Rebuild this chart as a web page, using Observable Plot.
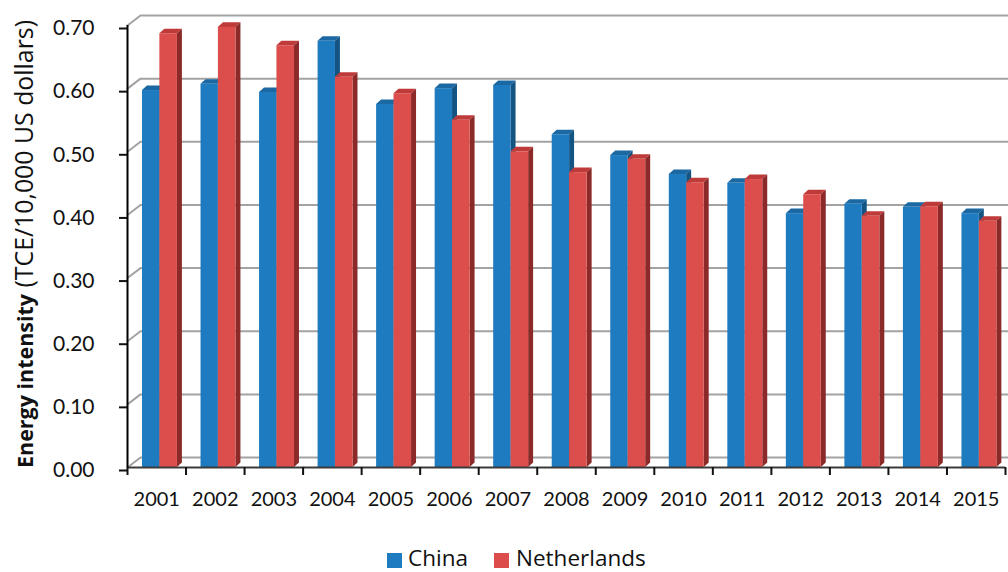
<!DOCTYPE html>
<html>
<head>
<meta charset="utf-8">
<script src="https://cdn.jsdelivr.net/npm/d3@7"></script>
<script src="https://cdn.jsdelivr.net/npm/@observablehq/plot@0.6"></script>
<style>
  html, body { margin: 0; padding: 0; background: #fff; }
  #wrap { width: 1008px; height: 572px; position: relative; overflow: hidden; font-family: Lato, "Open Sans", sans-serif; }
  #legend { position: relative; width: 1008px; height: 42px; }
  .sw { position: absolute; width: 15px; height: 15px; top: 23px; }
  .lt { position: absolute; top: 14px; font-family: "Open Sans", sans-serif; font-size: 22.5px; line-height: 28px; color: #111; }
</style>
</head>
<body>
<div id="wrap"></div>
<script>
// ---- data ----
const years = ["2001","2002","2003","2004","2005","2006","2007","2008","2009","2010","2011","2012","2013","2014","2015"];
const series = ["China", "Netherlands"];
const china = [0.597, 0.607, 0.594, 0.675, 0.575, 0.600, 0.605, 0.527, 0.494, 0.464, 0.450, 0.402, 0.417, 0.412, 0.402];
const netherlands = [0.687, 0.697, 0.668, 0.618, 0.592, 0.550, 0.500, 0.467, 0.488, 0.451, 0.456, 0.432, 0.398, 0.413, 0.390];
const yTicks = [0, 0.1, 0.2, 0.3, 0.4, 0.5, 0.6, 0.7];
const yTitleBold = "Energy intensity";
const yTitleRest = " (TCE/10,000 US dollars)";

// ---- styling / layout ----
const colors = {
  China: {front: "#1f7bc0", top: "#1b68a3", side: "#145483", swatch: "#1f7bc0"},
  Netherlands: {front: "#dc4e4c", top: "#bf3b3a", side: "#8c2a2a", swatch: "#dc4c4b"}
};
const slot = {China: [0.256, 0.553], Netherlands: [0.553, 0.853]};
const depthX = 0.085, depthY = 0.0072;   // bar depth (data units)
const wallX = 0.222, wallY = 0.0158;     // back wall offset (data units)

const values = {China: china, Netherlands: netherlands};
const marks = [];

// back-wall gridlines with diagonal to front axis
const gridPts = [];
yTicks.forEach(t => {
  gridPts.push({t, x: 0, y: t});
  gridPts.push({t, x: wallX, y: t + wallY});
  gridPts.push({t, x: years.length + 0.06, y: t + wallY});
});
marks.push(Plot.line(gridPts, {x: "x", y: "y", z: "t", stroke: "#a3a3a3", strokeWidth: 2}));

series.forEach(s => {
  const rows = years.map((yr, i) => ({i, v: values[s][i], x1: i + slot[s][0], x2: i + slot[s][1]}));
  const tops = [], sides = [];
  rows.forEach(r => {
    tops.push({k: r.i, x: r.x1, y1: r.v, y2: r.v});
    tops.push({k: r.i, x: r.x1 + depthX, y1: r.v, y2: r.v + depthY});
    tops.push({k: r.i, x: r.x2, y1: r.v, y2: r.v + depthY});
    tops.push({k: r.i, x: r.x2 + depthX, y1: r.v + depthY, y2: r.v + depthY});
    sides.push({k: r.i, x: r.x2, y1: 0, y2: r.v});
    sides.push({k: r.i, x: r.x2 + depthX, y1: depthY, y2: r.v + depthY});
  });
  marks.push(Plot.areaY(tops, {x: "x", y1: "y1", y2: "y2", z: "k", fill: colors[s].top}));
  marks.push(Plot.areaY(sides, {x: "x", y1: "y1", y2: "y2", z: "k", fill: colors[s].side}));
  marks.push(Plot.rect(rows, {x1: "x1", x2: "x2", y1: 0, y2: "v", fill: colors[s].front}));
});

// axes
marks.push(Plot.ruleY([0], {x1: 0, x2: years.length, stroke: "#3a3a3a", strokeWidth: 2}));
marks.push(Plot.ruleX([0], {y1: 0, y2: 0.7, stroke: "#000", strokeWidth: 2}));
marks.push(Plot.axisY({ticks: yTicks, tickFormat: d => d.toFixed(2), tickSize: 8, tickPadding: 25, fontSize: 21, label: null, strokeWidth: 2, dy: 3}));
marks.push(Plot.axisX({ticks: d3.range(years.length + 1), tickFormat: () => "", tickSize: 8, label: null, strokeWidth: 2}));
marks.push(Plot.axisX({ticks: years.map((_, i) => i + 0.5), tickFormat: d => years[Math.floor(d)], tickSize: 0, tickPadding: 24, fontSize: 20, label: null}));

const chart = Plot.plot({
  width: 1008,
  height: 530,
  marginLeft: 127,
  marginRight: 3,
  marginTop: 25,
  marginBottom: 63,
  x: {type: "linear", domain: [0, years.length]},
  y: {domain: [0, 0.7]},
  style: {fontFamily: "Lato, 'Open Sans', sans-serif", color: "#111", background: "#fff", overflow: "visible"},
  marks
});

const wrap = document.getElementById("wrap");
wrap.appendChild(chart);

// y-axis title with mixed weights
const svg = d3.select(chart);
const tt = svg.append("text")
  .attr("transform", "translate(33,244) rotate(-90)")
  .attr("text-anchor", "middle")
  .attr("fill", "#111")
  .attr("font-family", "'Open Sans', sans-serif");
const tb = tt.append("tspan").attr("font-weight", "bold").attr("font-size", 20).text(yTitleBold);
const tr = tt.append("tspan").attr("font-size", 20).text(yTitleRest);
// fit title parts to the reference's text lengths
const fit = (sel, target) => {
  const w = sel.node().getComputedTextLength();
  if (w > 0) sel.attr("font-size", (20 * target / w).toFixed(2));
};
fit(tb, 174);
fit(tr, 274);

// legend
const legend = document.createElement("div");
legend.id = "legend";
const legendPos = {China: [387, 408], Netherlands: [494, 516]};
series.forEach(s => {
  const sw = document.createElement("div");
  sw.className = "sw";
  sw.style.left = legendPos[s][0] + "px";
  sw.style.background = colors[s].swatch;
  const lt = document.createElement("div");
  lt.className = "lt";
  lt.style.left = legendPos[s][1] + "px";
  lt.textContent = s;
  legend.appendChild(sw);
  legend.appendChild(lt);
});
wrap.appendChild(legend);
</script>
</body>
</html>
